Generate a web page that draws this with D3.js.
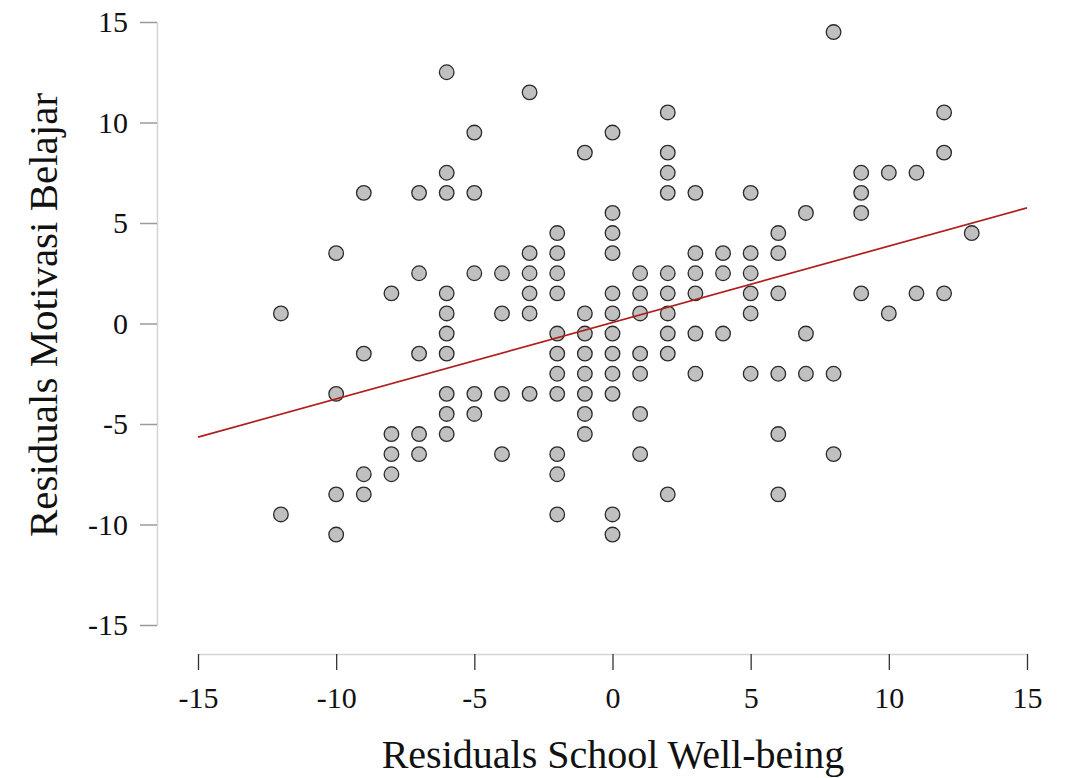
<!DOCTYPE html>
<html>
<head>
<meta charset="utf-8">
<script src="https://cdn.jsdelivr.net/npm/d3@7"></script>
<style>
  body { margin: 0; background: #fff; }
  text { font-family: "Liberation Serif", "DejaVu Serif", serif; fill: #111; }
</style>
</head>
<body>
<div id="chart"></div>
<script>
// Data: x values of each column and the y values in it
var colX = [-12, -10, -9, -8, -7, -6, -5, -4, -3, -2, -1, 0, 1, 2, 3, 4, 5, 6, 7, 8, 9, 10, 11, 12, 13];
var colY = [
    [0.5, -9.5],
    [3.5, -3.5, -8.5, -10.5],
    [6.5, -1.5, -7.5, -8.5],
    [1.5, -5.5, -6.5, -7.5],
    [6.5, 2.5, -1.5, -5.5, -6.5],
    [12.5, 7.5, 6.5, 1.5, 0.5, -0.5, -1.5, -3.5, -4.5, -5.5],
    [9.5, 6.5, 2.5, -3.5, -4.5],
    [2.5, 0.5, -3.5, -6.5],
    [11.5, 3.5, 2.5, 1.5, 0.5, -3.5],
    [4.5, 3.5, 2.5, 1.5, -0.5, -1.5, -2.5, -3.5, -6.5, -7.5, -9.5],
    [8.5, 0.5, -0.5, -1.5, -2.5, -3.5, -4.5, -5.5],
    [9.5, 5.5, 4.5, 3.5, 1.5, 0.5, -0.5, -1.5, -2.5, -3.5, -9.5, -10.5],
    [2.5, 1.5, 0.5, -1.5, -2.5, -4.5, -6.5],
    [10.5, 8.5, 7.5, 6.5, 2.5, 1.5, 0.5, -0.5, -1.5, -8.5],
    [6.5, 3.5, 2.5, 1.5, -0.5, -2.5],
    [3.5, 2.5, -0.5],
    [6.5, 3.5, 2.5, 1.5, 0.5, -2.5],
    [4.5, 3.5, 1.5, -2.5, -5.5, -8.5],
    [5.5, -0.5, -2.5],
    [14.5, -2.5, -6.5],
    [7.5, 6.5, 5.5, 1.5],
    [7.5, 0.5],
    [7.5, 1.5],
    [10.5, 8.5, 1.5],
    [4.5]
];

// fitted line end points
var lineX = [-15, 15];
var lineY = [-5.65, 5.75];

var xTicks = [-15, -10, -5, 0, 5, 10, 15];
var yTicks = [-15, -10, -5, 0, 5, 10, 15];

var svg = d3.select("#chart")
    .append("svg")
    .attr("width", 1069)
    .attr("height", 778);

var xScale = d3.scaleLinear().domain([-15, 15]).range([198, 1027]);
var yScale = d3.scaleLinear().domain([-15, 15]).range([625, 22]);

// plain hyphen for negatives, like the original
var fmt = function(d) { return String(d); };

// y axis
var gy = svg.append("g")
    .attr("transform", "translate(157,0)")
    .call(d3.axisLeft(yScale).tickValues(yTicks).tickFormat(fmt).tickSize(17).tickSizeOuter(0).tickPadding(12));
gy.select(".domain").attr("stroke", "#d4d4d4").attr("stroke-width", 1.5);
gy.selectAll(".tick line").attr("stroke", "#9a9a9a").attr("stroke-width", 1.5);
gy.selectAll(".tick text").style("font-size", "30px").style("font-family", "Liberation Serif");

// x axis
var gx = svg.append("g")
    .attr("transform", "translate(0,654)")
    .call(d3.axisBottom(xScale).tickValues(xTicks).tickFormat(fmt).tickSize(16).tickSizeOuter(0).tickPadding(17));
gx.select(".domain").attr("stroke", "#d4d4d4").attr("stroke-width", 1.5);
gx.selectAll(".tick line").attr("stroke", "#333").attr("stroke-width", 1.3);
gx.selectAll(".tick text").style("font-size", "30px").style("font-family", "Liberation Serif");

// titles
svg.append("text")
    .attr("x", 613)
    .attr("y", 768)
    .attr("text-anchor", "middle")
    .style("font-size", "40px")
    .text("Residuals School Well-being");

svg.append("text")
    .attr("transform", "translate(57,315) rotate(-90)")
    .attr("text-anchor", "middle")
    .style("font-size", "41px")
    .text("Residuals Motivasi Belajar");

// points
var pts = [];
colX.forEach(function(x, i) {
    colY[i].forEach(function(y) { pts.push({x: x, y: y}); });
});

svg.selectAll(".point")
    .data(pts)
    .enter().append("circle")
    .attr("class", "point")
    .attr("r", 7.3)
    .attr("cx", function(d) { return xScale(d.x); })
    .attr("cy", function(d) { return yScale(d.y); })
    .style("fill", "#c0c0c0")
    .style("stroke", "#2a2a2a")
    .style("stroke-width", 1.3);

// regression line
var fit = lineX.map(function(x, i) { return {x: x, y: lineY[i]}; });
svg.append("path")
    .datum(fit)
    .attr("d", d3.line().x(function(d) { return xScale(d.x); }).y(function(d) { return yScale(d.y); }))
    .style("stroke", "#b01e1e")
    .style("stroke-width", 1.7)
    .style("fill", "none");
</script>
</body>
</html>
